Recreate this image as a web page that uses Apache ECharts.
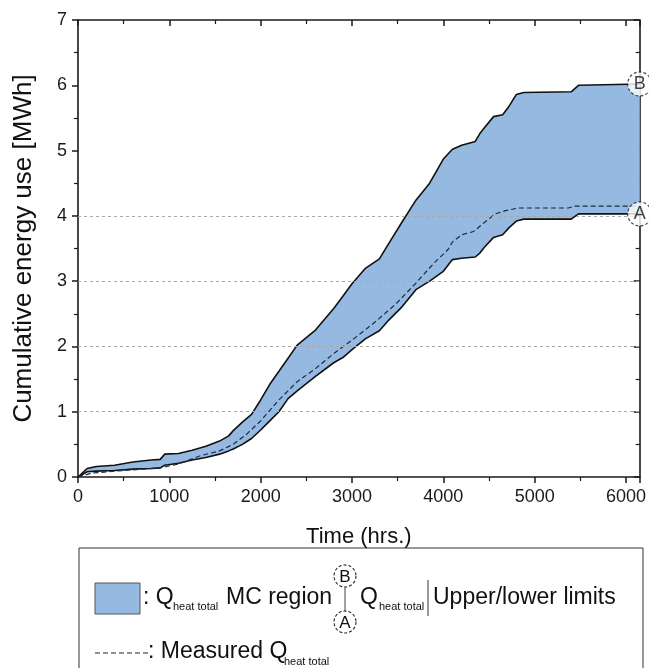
<!DOCTYPE html>
<html>
<head>
<meta charset="utf-8">
<script src="https://cdn.jsdelivr.net/npm/echarts@6/dist/echarts.min.js"></script>
<style>
  html, body { margin: 0; padding: 0; background: #fff; }
  #chart { width: 649px; height: 668px; }
</style>
</head>
<body>
<div id="chart"></div>
<script>
// ---- data ----
const bandTime = [0, 100, 200, 400, 600, 800, 900, 950, 1100, 1250, 1400, 1550, 1650, 1700, 1800, 1900, 2000, 2100, 2200, 2300, 2400, 2600, 2800, 2900, 3000, 3150, 3300, 3400, 3550, 3700, 3850, 4000, 4100, 4200, 4350, 4400, 4450, 4550, 4650, 4720, 4800, 4880, 5400, 5480, 6150];
const upperLimit = [0, 0.13, 0.16, 0.18, 0.23, 0.26, 0.27, 0.35, 0.36, 0.41, 0.47, 0.55, 0.63, 0.71, 0.84, 0.96, 1.18, 1.42, 1.62, 1.82, 2.02, 2.25, 2.58, 2.77, 2.96, 3.20, 3.34, 3.57, 3.91, 4.24, 4.50, 4.87, 5.02, 5.08, 5.14, 5.26, 5.35, 5.52, 5.55, 5.68, 5.86, 5.89, 5.90, 6.00, 6.02];
const lowerLimit = [0, 0.08, 0.09, 0.10, 0.12, 0.13, 0.14, 0.18, 0.21, 0.26, 0.30, 0.35, 0.40, 0.43, 0.50, 0.59, 0.72, 0.86, 1.00, 1.20, 1.32, 1.54, 1.75, 1.83, 1.95, 2.12, 2.24, 2.40, 2.61, 2.87, 3.00, 3.15, 3.33, 3.35, 3.37, 3.43, 3.52, 3.67, 3.71, 3.82, 3.92, 3.95, 3.95, 4.03, 4.03];
const measuredTime = [0, 150, 500, 900, 1100, 1350, 1550, 1700, 1850, 2000, 2200, 2400, 2600, 2800, 3050, 3250, 3480, 3700, 3900, 4050, 4100, 4200, 4330, 4460, 4570, 4680, 4820, 5370, 5440, 6150];
const measured = [0, 0.06, 0.10, 0.14, 0.20, 0.33, 0.40, 0.50, 0.66, 0.86, 1.18, 1.46, 1.66, 1.89, 2.15, 2.37, 2.65, 2.97, 3.28, 3.48, 3.60, 3.71, 3.76, 3.91, 4.03, 4.08, 4.12, 4.12, 4.15, 4.15];
const limitLabels = ['A', 'B'];
const limitValues = [4.03, 6.02];
const gridLevels = [1, 2, 3, 4];
const xTicks = { min: 0, max: 6150, interval: 1000 };
const yTicks = { min: 0, max: 7, interval: 1 };

const FONT = "'Liberation Sans', Arial, sans-serif";
const INK = '#1a1a1a';
const FILL = '#95b9e0';

const upperPts = bandTime.map((t, i) => [t, upperLimit[i]]);
const lowerPts = bandTime.map((t, i) => [t, lowerLimit[i]]);
const measuredPts = measuredTime.map((t, i) => [t, measured[i]]);
const limitPts = limitLabels.map((l, i) => ({ value: [xTicks.max, limitValues[i]], name: l }));

const chart = echarts.init(document.getElementById('chart'), null, { renderer: 'canvas' });

function axisCommon(isTop) {
  return {
    axisLine: { show: true, onZero: false, lineStyle: { color: INK, width: 1.6 } },
    axisTick: { show: true, inside: isTop, length: 6, lineStyle: { color: INK, width: 1.5 } },
    minorTick: { show: true, splitNumber: 2, length: 4, lineStyle: { color: INK, width: 1.2 } },
    splitLine: { show: false },
    minorSplitLine: { show: false }
  };
}

const LS = 23;   // legend font size
const SUB = 11;  // subscript size
const txt = (text, x, y, size, extra) => ({
  type: 'text', x: x, y: y,
  style: Object.assign({ text: text, verticalAlign: 'middle', fontFamily: FONT, fontSize: size, fill: '#111' }, extra || {})
});

const option = {
  backgroundColor: '#fff',
  animation: false,
  grid: { left: 78, right: 7, top: 20, bottom: 191, containLabel: false },
  xAxis: [
    Object.assign(axisCommon(false), {
      type: 'value', position: 'bottom', min: xTicks.min, max: xTicks.max, interval: xTicks.interval,
      axisLabel: { fontFamily: FONT, fontSize: 18, color: INK, margin: 11,
        formatter: v => (v % 1000 === 0 ? String(v) : '') },
      name: 'Time (hrs.)', nameLocation: 'middle', nameGap: 49,
      nameTextStyle: { fontFamily: FONT, fontSize: 22, color: '#111' }
    }),
    Object.assign(axisCommon(true), {
      type: 'value', position: 'top', min: xTicks.min, max: xTicks.max, interval: xTicks.interval,
      axisLabel: { show: false }
    })
  ],
  yAxis: [
    Object.assign(axisCommon(false), {
      type: 'value', position: 'left', min: yTicks.min, max: yTicks.max, interval: yTicks.interval,
      axisLabel: { fontFamily: FONT, fontSize: 18, color: INK, margin: 11 },
      name: 'Cumulative energy use [MWh]', nameLocation: 'middle', nameGap: 41,
      nameTextStyle: { fontFamily: FONT, fontSize: 26, color: '#111' }
    }),
    Object.assign(axisCommon(true), {
      type: 'value', position: 'right', min: yTicks.min, max: yTicks.max, interval: yTicks.interval,
      axisLabel: { show: false }
    })
  ],
  series: [
    {
      type: 'custom',
      name: 'MC region',
      z: 1,
      clip: true,
      data: [[0, 0]],
      renderItem: function (params, api) {
        const pts = upperPts.map(p => api.coord(p))
          .concat(lowerPts.slice().reverse().map(p => api.coord(p)));
        return { type: 'polygon', shape: { points: pts }, style: { fill: FILL, stroke: null } };
      }
    },
    {
      type: 'line', name: 'gridlines', z: 2, data: [], symbol: 'none',
      markLine: {
        silent: true, symbol: 'none', label: { show: false },
        lineStyle: { color: '#a8a8a8', type: [3, 3], width: 1 },
        data: gridLevels.map(v => ({ yAxis: v }))
      }
    },
    {
      type: 'line', name: 'Upper', data: upperPts, symbol: 'none', z: 3,
      lineStyle: { color: '#111', width: 1.6 }
    },
    {
      type: 'line', name: 'Lower', data: lowerPts, symbol: 'none', z: 3,
      lineStyle: { color: '#111', width: 1.6 }
    },
    {
      type: 'line', name: 'Measured', data: measuredPts, symbol: 'none', z: 4,
      lineStyle: { color: '#1c2a40', width: 1.2, type: [5, 3] }
    },
    {
      type: 'scatter', name: 'Limits', data: limitPts, z: 10, clip: false,
      symbol: 'circle', symbolSize: 24,
      itemStyle: { color: '#fff', borderColor: '#222', borderWidth: 1.2, borderType: [3, 2] },
      label: { show: true, position: 'inside', formatter: p => p.name,
        fontFamily: FONT, fontSize: 18, color: '#111' }
    }
  ],
  graphic: [
    { type: 'rect', shape: { x: 79, y: 548, width: 564, height: 140 },
      style: { fill: 'none', stroke: '#333', lineWidth: 1 } },
    { type: 'rect', shape: { x: 95, y: 583, width: 45, height: 31 },
      style: { fill: FILL, stroke: '#555', lineWidth: 1 } },
    txt(': Q', 143, 598, LS),
    txt('heat total', 173, 607, SUB),
    txt('MC region', 226, 598, LS),
    { type: 'circle', shape: { cx: 345, cy: 576, r: 11 },
      style: { fill: '#fff', stroke: '#222', lineWidth: 1.1, lineDash: [3, 2] } },
    txt('B', 345, 577, 17, { align: 'center' }),
    { type: 'line', shape: { x1: 345, y1: 587, x2: 345, y2: 611 }, style: { stroke: '#444', lineWidth: 1 } },
    { type: 'circle', shape: { cx: 345, cy: 622, r: 11 },
      style: { fill: '#fff', stroke: '#222', lineWidth: 1.1, lineDash: [3, 2] } },
    txt('A', 345, 623, 17, { align: 'center' }),
    txt('Q', 360, 598, LS),
    txt('heat total', 379, 607, SUB),
    { type: 'line', shape: { x1: 428, y1: 580, x2: 428, y2: 616 }, style: { stroke: '#333', lineWidth: 1 } },
    txt('Upper/lower limits', 433, 598, LS),
    { type: 'line', shape: { x1: 95, y1: 653, x2: 148, y2: 653 }, style: { stroke: '#222', lineWidth: 1, lineDash: [5, 3] } },
    txt(': Measured Q', 148, 652, LS),
    txt('heat total', 284, 662, SUB)
  ]
};

chart.setOption(option);
</script>
</body>
</html>
